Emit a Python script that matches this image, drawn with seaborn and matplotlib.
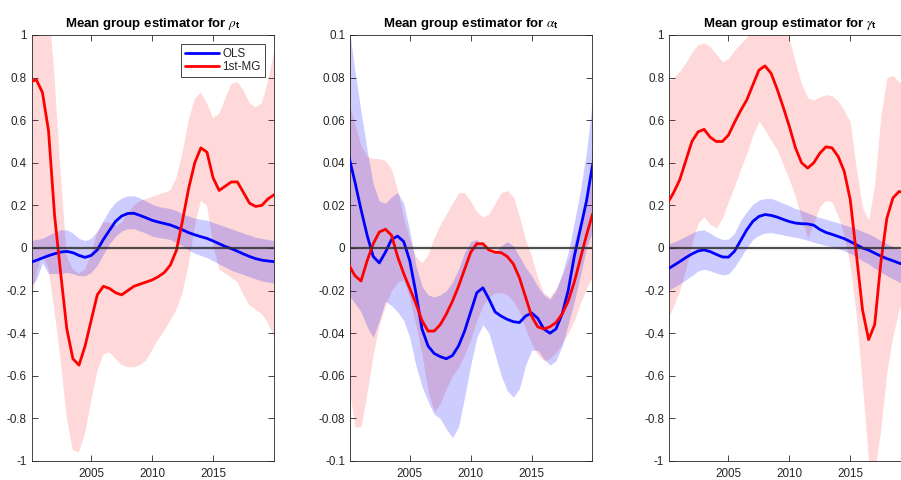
import numpy as np
import pandas as pd
import matplotlib
matplotlib.use("Agg")
import matplotlib.pyplot as plt
import seaborn as sns

# Half-yearly time grid
years = np.arange(2000.0, 2020.01, 0.5)

# ---- rho_t ----
rho_ols = [-0.068, -0.058, -0.047, -0.036, -0.027, -0.019, -0.016, -0.022, -0.035, -0.044,
           -0.035, -0.009, 0.04, 0.083, 0.125, 0.15, 0.162, 0.163, 0.153, 0.142,
           0.13, 0.122, 0.115, 0.108, 0.097, 0.085, 0.072, 0.062, 0.053, 0.045,
           0.033, 0.02, 0.007, -0.003, -0.015, -0.028, -0.04, -0.05, -0.057, -0.061, -0.064]
rho_ols_hi = [0.035, 0.04, 0.045, 0.06, 0.075, 0.085, 0.085, 0.07, 0.045, 0.035,
              0.045, 0.08, 0.13, 0.18, 0.215, 0.235, 0.245, 0.245, 0.235, 0.22,
              0.205, 0.195, 0.19, 0.185, 0.175, 0.16, 0.15, 0.14, 0.135, 0.13,
              0.12, 0.11, 0.1, 0.09, 0.08, 0.07, 0.06, 0.05, 0.045, 0.04, 0.035]
rho_ols_lo = [-0.18, -0.15, -0.07, -0.12, -0.12, -0.12, -0.115, -0.12, -0.13, -0.13,
              -0.115, -0.08, -0.03, 0.02, 0.055, 0.08, 0.09, 0.09, 0.08, 0.07,
              0.055, 0.05, 0.045, 0.04, 0.025, 0.01, -0.01, -0.025, -0.035, -0.045,
              -0.06, -0.075, -0.09, -0.105, -0.115, -0.125, -0.135, -0.145, -0.155, -0.16, -0.165]
rho_mg = [0.78, 0.79, 0.73, 0.55, 0.15, -0.12, -0.38, -0.52, -0.55, -0.46,
          -0.34, -0.22, -0.18, -0.19, -0.21, -0.22, -0.2, -0.18, -0.17, -0.16,
          -0.15, -0.135, -0.115, -0.08, -0.01, 0.13, 0.28, 0.4, 0.47, 0.45,
          0.33, 0.27, 0.29, 0.31, 0.31, 0.26, 0.21, 0.195, 0.2, 0.23, 0.25]
rho_mg_hi = [1.5, 1.5, 1.45, 1.15, 0.8, 0.35, -0.04, -0.1, -0.12, -0.1,
             -0.03, 0.07, 0.12, 0.12, 0.1, 0.12, 0.16, 0.2, 0.22, 0.23,
             0.24, 0.25, 0.26, 0.27, 0.33, 0.45, 0.6, 0.7, 0.73, 0.68,
             0.61, 0.63, 0.7, 0.77, 0.78, 0.74, 0.68, 0.66, 0.68, 0.78, 0.92]
rho_mg_lo = [-0.3, -0.12, -0.03, -0.1, -0.3, -0.53, -0.8, -0.95, -0.96, -0.87,
             -0.72, -0.58, -0.5, -0.49, -0.52, -0.55, -0.56, -0.56, -0.55, -0.53,
             -0.48, -0.43, -0.39, -0.34, -0.29, -0.21, -0.08, 0.1, 0.22, 0.2,
             0.02, -0.1, -0.12, -0.14, -0.16, -0.22, -0.27, -0.29, -0.31, -0.35, -0.42]

# ---- alpha_t ----
alpha_ols = [0.043, 0.031, 0.018, 0.006, -0.004, -0.007, -0.002, 0.004, 0.0056, 0.003,
             -0.006, -0.021, -0.038, -0.046, -0.0495, -0.051, -0.052, -0.0505, -0.046, -0.039,
             -0.03, -0.021, -0.0187, -0.024, -0.03, -0.032, -0.0335, -0.0346, -0.035, -0.032,
             -0.0305, -0.033, -0.038, -0.04, -0.038, -0.031, -0.02, -0.004, 0.009, 0.022, 0.039]
alpha_ols_hi = [0.105, 0.083, 0.064, 0.046, 0.03, 0.022, 0.021, 0.024, 0.026, 0.021,
                0.008, -0.008, -0.018, -0.022, -0.023, -0.022, -0.02, -0.016, -0.01, -0.002,
                0.003, 0.004, 0.001, -0.002, -0.002, 0.001, 0.003, 0.001, -0.004, -0.009,
                -0.013, -0.018, -0.022, -0.024, -0.02, -0.012, -0.002, 0.012, 0.027, 0.045, 0.07]
alpha_ols_lo = [-0.022, -0.026, -0.03, -0.037, -0.042, -0.034, -0.025, -0.027, -0.03, -0.034,
                -0.042, -0.055, -0.065, -0.072, -0.078, -0.08, -0.085, -0.089, -0.084, -0.07,
                -0.055, -0.042, -0.036, -0.04, -0.05, -0.06, -0.067, -0.07, -0.066, -0.055,
                -0.048, -0.048, -0.052, -0.055, -0.053, -0.046, -0.036, -0.025, -0.013, 0.0, 0.008]
alpha_mg = [-0.008, -0.013, -0.0155, -0.006, 0.002, 0.0075, 0.0088, 0.006, -0.004, -0.012,
            -0.019, -0.026, -0.034, -0.039, -0.039, -0.036, -0.031, -0.025, -0.018, -0.01,
            -0.002, 0.002, 0.002, -0.001, -0.002, -0.0022, -0.004, -0.0075, -0.014, -0.023,
            -0.032, -0.037, -0.038, -0.037, -0.035, -0.031, -0.025, -0.016, -0.005, 0.006, 0.016]
alpha_mg_hi = [0.068, 0.058, 0.048, 0.043, 0.042, 0.042, 0.041, 0.037, 0.027, 0.014,
               0.004, -0.004, -0.007, -0.003, 0.005, 0.011, 0.016, 0.021, 0.026, 0.026,
               0.022, 0.017, 0.0145, 0.016, 0.021, 0.026, 0.027, 0.024, 0.015, 0.004,
               -0.004, -0.014, -0.021, -0.023, -0.019, -0.013, -0.006, 0.003, 0.013, 0.026, 0.046]
alpha_mg_lo = [-0.065, -0.084, -0.084, -0.068, -0.05, -0.036, -0.027, -0.02, -0.016, -0.015,
               -0.024, -0.036, -0.05, -0.067, -0.077, -0.073, -0.066, -0.06, -0.056, -0.05,
               -0.043, -0.034, -0.027, -0.023, -0.021, -0.021, -0.022, -0.025, -0.03, -0.038,
               -0.045, -0.05, -0.053, -0.052, -0.049, -0.045, -0.04, -0.034, -0.026, -0.019, -0.013]

# ---- gamma_t ----
gamma_ols = [-0.1, -0.082, -0.064, -0.045, -0.028, -0.014, -0.009, -0.017, -0.03, -0.042,
             -0.043, -0.015, 0.035, 0.085, 0.125, 0.148, 0.157, 0.153, 0.145, 0.134,
             0.124, 0.117, 0.114, 0.113, 0.107, 0.087, 0.073, 0.064, 0.054, 0.044,
             0.03, 0.015, 0.0, -0.01, -0.024, -0.038, -0.05, -0.06, -0.071, -0.08, -0.088]
gamma_ols_hi = [0.018, 0.028, 0.04, 0.055, 0.07, 0.082, 0.085, 0.07, 0.052, 0.04,
                0.042, 0.07, 0.13, 0.17, 0.205, 0.225, 0.232, 0.232, 0.222, 0.21,
                0.198, 0.185, 0.176, 0.165, 0.153, 0.143, 0.135, 0.126, 0.118, 0.108,
                0.1, 0.09, 0.078, 0.067, 0.052, 0.035, 0.02, 0.006, -0.006, -0.018, -0.03]
gamma_ols_lo = [-0.2, -0.185, -0.168, -0.15, -0.13, -0.108, -0.1, -0.107, -0.118, -0.126,
                -0.122, -0.09, -0.045, 0.0, 0.04, 0.06, 0.07, 0.072, 0.067, 0.061,
                0.055, 0.05, 0.044, 0.036, 0.027, 0.019, 0.012, 0.006, -0.003, -0.014,
                -0.025, -0.042, -0.06, -0.075, -0.095, -0.113, -0.13, -0.145, -0.16, -0.175, -0.19]
gamma_mg = [0.21, 0.26, 0.32, 0.41, 0.5, 0.545, 0.557, 0.52, 0.5, 0.5,
            0.53, 0.59, 0.645, 0.695, 0.765, 0.835, 0.855, 0.82, 0.745, 0.66,
            0.57, 0.47, 0.4, 0.375, 0.4, 0.445, 0.475, 0.47, 0.43, 0.36,
            0.225, -0.03, -0.29, -0.43, -0.36, -0.07, 0.14, 0.235, 0.265, 0.26, 0.25]
gamma_mg_hi = [0.78, 0.8, 0.83, 0.87, 0.92, 0.955, 0.963, 0.945, 0.91, 0.875,
               0.89, 0.93, 0.96, 0.99, 1.03, 1.07, 1.09, 1.09, 1.07, 1.03,
               0.98, 0.87, 0.77, 0.705, 0.695, 0.71, 0.72, 0.715, 0.69, 0.645,
               0.59, 0.37, 0.19, 0.13, 0.3, 0.62, 0.8, 0.81, 0.78, 0.77, 0.77]
gamma_mg_lo = [-0.34, -0.27, -0.2, -0.1, 0.02, 0.115, 0.147, 0.11, 0.095, 0.14,
               0.22, 0.29, 0.37, 0.445, 0.53, 0.595, 0.555, 0.505, 0.46, 0.39,
               0.32, 0.24, 0.14, 0.045, 0.12, 0.195, 0.225, 0.215, 0.15, 0.055,
               -0.09, -0.32, -0.65, -1.0, -1.05, -0.85, -0.58, -0.41, -0.29, -0.22, -0.18]

series_names = ["OLS", "1st-MG"]
titles = [r"Mean group estimator for $\rho_\mathbf{t}$",
          r"Mean group estimator for $\alpha_\mathbf{t}$",
          r"Mean group estimator for $\gamma_\mathbf{t}$"]
x_ticks = [2005, 2010, 2015]
x_tick_labels = ["2005", "2010", "2015"]
unit_ticks = [-1, -0.8, -0.6, -0.4, -0.2, 0, 0.2, 0.4, 0.6, 0.8, 1]
unit_tick_labels = ["-1", "-0.8", "-0.6", "-0.4", "-0.2", "0", "0.2", "0.4", "0.6", "0.8", "1"]
small_ticks = [-0.1, -0.08, -0.06, -0.04, -0.02, 0, 0.02, 0.04, 0.06, 0.08, 0.1]
small_tick_labels = ["-0.1", "-0.08", "-0.06", "-0.04", "-0.02", "0", "0.02", "0.04", "0.06", "0.08", "0.1"]

panels = [
    dict(ols=rho_ols, ols_lo=rho_ols_lo, ols_hi=rho_ols_hi,
         mg=rho_mg, mg_lo=rho_mg_lo, mg_hi=rho_mg_hi,
         ylim=(-1, 1), ticks=unit_ticks, labels=unit_tick_labels),
    dict(ols=alpha_ols, ols_lo=alpha_ols_lo, ols_hi=alpha_ols_hi,
         mg=alpha_mg, mg_lo=alpha_mg_lo, mg_hi=alpha_mg_hi,
         ylim=(-0.1, 0.1), ticks=small_ticks, labels=small_tick_labels),
    dict(ols=gamma_ols, ols_lo=gamma_ols_lo, ols_hi=gamma_ols_hi,
         mg=gamma_mg, mg_lo=gamma_mg_lo, mg_hi=gamma_mg_hi,
         ylim=(-1, 1), ticks=unit_ticks, labels=unit_tick_labels),
]

sns.set_theme(style="white")
plt.rcParams["font.family"] = ["Liberation Sans", "DejaVu Sans"]
plt.rcParams["mathtext.fontset"] = "custom"
plt.rcParams["mathtext.rm"] = "Liberation Sans"
plt.rcParams["mathtext.it"] = "STIXGeneral:italic"
plt.rcParams["mathtext.bf"] = "Liberation Sans:bold"

AX_COL = "#262626"
RED = (1.0, 0.0, 0.0)
BLUE = (0.0, 0.0, 1.0)

fig = plt.figure(figsize=(9.01, 4.80), dpi=100)
lefts = [0.0352, 0.3888, 0.7425]
width, bottom, height = 0.2686, 0.0396, 0.8875

for i, p in enumerate(panels):
    ax = fig.add_axes([lefts[i], bottom, width, height])
    df = pd.DataFrame({"year": years, "ols": p["ols"], "ols_lo": p["ols_lo"], "ols_hi": p["ols_hi"],
                       "mg": p["mg"], "mg_lo": p["mg_lo"], "mg_hi": p["mg_hi"]})
    # confidence bands
    ax.fill_between(df["year"], df["mg_lo"], df["mg_hi"], color=RED, alpha=0.15, lw=0, zorder=1)
    ax.fill_between(df["year"], df["ols_lo"], df["ols_hi"], color=BLUE, alpha=0.2, lw=0, zorder=2)
    # point estimates
    sns.lineplot(data=df, x="year", y="ols", ax=ax, color=BLUE, lw=2.0, zorder=4,
                 label=series_names[0], legend=False, estimator=None, sort=False)
    sns.lineplot(data=df, x="year", y="mg", ax=ax, color=RED, lw=2.0, zorder=5,
                 label=series_names[1], legend=False, estimator=None, sort=False)
    ax.axhline(0, color="#303030", lw=1.6, alpha=0.85, zorder=6)

    ax.set_xlim(2000.12, 2019.98)
    ax.set_ylim(*p["ylim"])
    ax.set_xticks(x_ticks)
    ax.set_xticklabels(x_tick_labels)
    ax.set_yticks(p["ticks"])
    ax.set_yticklabels(p["labels"])
    ax.set_xlabel("")
    ax.set_ylabel("")
    ax.tick_params(direction="in", length=4, width=0.6, color=AX_COL, labelcolor=AX_COL,
                   labelsize=8.4, top=True, right=True, bottom=True, left=True)
    ax.tick_params(axis="x", pad=5)
    ax.tick_params(axis="y", pad=3.5)
    for sp in ax.spines.values():
        sp.set_color(AX_COL)
        sp.set_linewidth(0.6)
        sp.set_visible(True)
    ax.set_title(titles[i], fontsize=9.5, fontweight="bold", color="black", pad=6)

    if i == 0:
        handles = ax.get_lines()[:2]
        leg = ax.legend(handles=handles, labels=series_names, loc="upper right",
                        fontsize=8.4, frameon=True, fancybox=False, framealpha=1,
                        edgecolor=AX_COL, borderaxespad=0.78, handlelength=2.9,
                        handletextpad=0.3, labelspacing=0.1, borderpad=0.35)
        leg.get_frame().set_linewidth(0.6)
        for t in leg.get_texts():
            t.set_color(AX_COL)

fig.savefig("out.png", dpi=100)
